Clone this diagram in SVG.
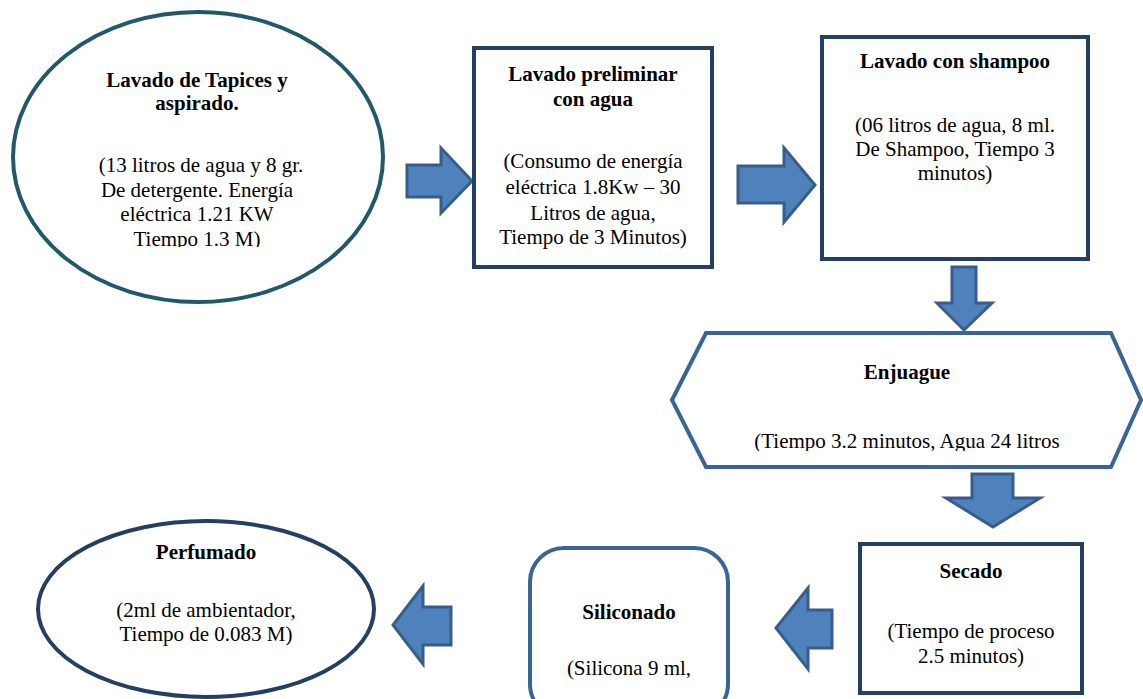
<svg xmlns="http://www.w3.org/2000/svg" width="1143" height="699" viewBox="0 0 1143 699">
<style>
text{font-family:"Liberation Serif","Times New Roman",serif;font-size:21px;fill:#000;text-anchor:middle}
.b{font-weight:bold;font-size:21px}
.arrow{fill:#4f81bd;stroke:#385d8a;stroke-width:3;stroke-linejoin:miter}
.dark{fill:#fff;stroke:#243f60;stroke-width:4}
.teal{fill:#fff;stroke:#215968;stroke-width:4}
.mid{fill:#fff;stroke:#3a6496;stroke-width:4}
</style>
<defs>
<clipPath id="c1"><rect x="0" y="0" width="400" height="247"/></clipPath>
<clipPath id="c2"><rect x="660" y="320" width="483" height="131"/></clipPath>
</defs>
<rect width="1143" height="699" fill="#fff"/>
<g id="connectors">
<path class="arrow" d="M407,165 H441 V148 L472,181 L441,213 V197 H407 Z"/>
<path class="arrow" d="M738,166 H784 V148 L815,185 L784,222 V203 H738 Z"/>
<path class="arrow" d="M952,267 H976 V303 H992 L964,330 L937,303 H952 Z"/>
<path class="arrow" d="M972,474 H1013 V498 H1040 L993,527 L946,498 H972 Z"/>
<path class="arrow" d="M832,610 H808 V588 L776,628 L808,669 V648 H832 Z"/>
<path class="arrow" d="M451,607 H423 V586 L393,625 L423,664 V645 H451 Z"/>
</g>
<g id="n1">
<ellipse class="teal" cx="198" cy="157" rx="185" ry="145"/>
<text class="b" x="197" y="87">Lavado de Tapices y</text>
<text class="b" x="197" y="110">aspirado.</text>
<g clip-path="url(#c1)">
<text x="201" y="172">(13 litros de agua y 8 gr.</text>
<text x="197" y="197">De detergente. Energía</text>
<text x="197" y="221">eléctrica 1.21 KW</text>
<text x="197" y="246">Tiempo 1.3 M)</text>
</g>
</g>
<g id="n2">
<rect class="dark" x="474" y="48" width="238" height="219"/>
<text class="b" x="593" y="81">Lavado preliminar</text>
<text class="b" x="593" y="106">con agua</text>
<text x="593" y="168">(Consumo de energía</text>
<text x="593" y="194">eléctrica 1.8Kw – 30</text>
<text x="593" y="220">Litros de agua,</text>
<text x="593" y="244">Tiempo de 3 Minutos)</text>
</g>
<g id="n3">
<rect class="dark" x="822" y="37" width="266" height="222"/>
<text class="b" x="955" y="68">Lavado con shampoo</text>
<text x="955" y="132">(06 litros de agua, 8 ml.</text>
<text x="955" y="156">De Shampoo, Tiempo 3</text>
<text x="955" y="180">minutos)</text>
</g>
<g id="n4">
<polygon class="mid" points="672,400 706,333 1111,333 1141,400 1111,467 706,467"/>
<text class="b" x="907" y="379">Enjuague</text>
<g clip-path="url(#c2)">
<text x="907" y="448">(Tiempo 3.2 minutos, Agua 24 litros</text>
</g>
</g>
<g id="n5">
<rect class="dark" x="860" y="544" width="222" height="149"/>
<text class="b" x="971" y="578">Secado</text>
<text x="971" y="638">(Tiempo de proceso</text>
<text x="971" y="663">2.5 minutos)</text>
</g>
<g id="n6">
<rect class="mid" x="530" y="548" width="198" height="170" rx="34"/>
<text class="b" x="629" y="619">Siliconado</text>
<text x="629" y="675">(Silicona 9 ml,</text>
</g>
<g id="n7">
<ellipse class="dark" cx="206" cy="609" rx="168" ry="88"/>
<text class="b" x="206" y="559">Perfumado</text>
<text x="206" y="617">(2ml de ambientador,</text>
<text x="206" y="641">Tiempo de 0.083 M)</text>
</g>
</svg>
